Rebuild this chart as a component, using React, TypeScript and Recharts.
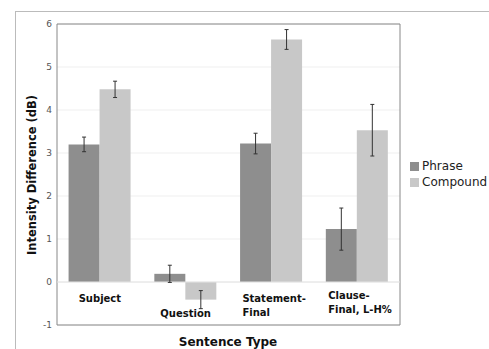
import { Bar, BarChart, CartesianGrid, ErrorBar, ReferenceArea, ReferenceLine, XAxis, YAxis } from 'recharts';

const categories = ['Subject', 'Question', 'Statement-Final', 'Clause-Final, L-H%'];
const categoryLines = [['Subject'], ['Question'], ['Statement-', 'Final'], ['Clause-', 'Final, L-H%']];
const seriesNames = ['Phrase', 'Compound'];
const phrase = [3.2, 0.19, 3.22, 1.23];
const phraseErr = [0.17, 0.2, 0.24, 0.49];
const compound = [4.48, -0.41, 5.64, 3.53];
const compoundErr = [0.19, 0.21, 0.23, 0.6];
const yTicks = [-1, 0, 1, 2, 3, 4, 5, 6];

const FONT = '"DejaVu Sans", Verdana, sans-serif';
const FILLS = ['#8e8e8e', '#c8c8c8'];

const data = categories.map((name, i) => ({
  name,
  Phrase: phrase[i],
  Compound: compound[i],
  phraseErr: [phraseErr[i], phraseErr[i]],
  compoundErr: [compoundErr[i], compoundErr[i]],
}));

type TickProps = { x?: number; y?: number; index?: number };

// Excel puts the labels just under the zero line, pushing Question below its negative bar
function CategoryTick({ x = 0, y = 0, index = 0 }: TickProps) {
  const lines = categoryLines[index] ?? [];
  const shift = index === 1 ? -16 : index === 3 ? -34 : -31;
  const multi = lines.length > 1;
  const tx = multi ? x - 29 : x;
  return (
    <text x={tx} y={y + shift} textAnchor={multi ? 'start' : 'middle'} fontFamily={FONT} fontWeight="bold" fontSize={10} fill="#111">
      {lines.map((line, i) => (
        <tspan key={line} x={tx} dy={i === 0 ? 0 : 14}>
          {line}
        </tspan>
      ))}
    </text>
  );
}

export default function App() {
  return (
    <div style={{ position: 'fixed', left: 0, top: 0, width: 489, height: 349, background: '#fff', overflow: 'hidden' }}>
      <div
        style={{
          position: 'absolute',
          left: 15,
          top: 11,
          width: 480,
          height: 345,
          borderTop: '1px solid #bbb',
          borderLeft: '1px solid #bbb',
        }}
      />
      <div style={{ position: 'absolute', left: 0, top: 0 }}>
        <BarChart
          width={489}
          height={349}
          data={data}
          margin={{ top: 24, right: 89, bottom: 0, left: 0 }}
          barCategoryGap="13.5%"
          barGap={0}
        >
          <CartesianGrid vertical={false} stroke="#efefef" />
          <XAxis dataKey="name" axisLine={false} tickLine={false} height={24} tick={<CategoryTick />} interval={0} />
          <YAxis
            width={57}
            domain={[-1, 6]}
            ticks={yTicks}
            axisLine={false}
            tickLine={false}
            tickSize={3}
            tick={{ fontFamily: FONT, fontSize: 9, fill: '#555' }}
          />
          <ReferenceLine y={0} stroke="#e4e4e4" />
          <Bar dataKey="Phrase" fill={FILLS[0]} isAnimationActive={false}>
            <ErrorBar dataKey="phraseErr" width={2} stroke="#333" strokeWidth={1} />
          </Bar>
          <Bar dataKey="Compound" fill={FILLS[1]} isAnimationActive={false}>
            <ErrorBar dataKey="compoundErr" width={2} stroke="#333" strokeWidth={1} />
          </Bar>
          <ReferenceArea y1={-1} y2={6} fill="none" stroke="#888" strokeWidth={1} ifOverflow="visible" />
        </BarChart>
      </div>
      <div style={{ position: 'absolute', left: 410, top: 158, fontFamily: FONT, fontSize: 12, color: '#222', whiteSpace: 'nowrap' }}>
        {seriesNames.map((name, i) => (
          <div key={name} style={{ display: 'flex', alignItems: 'center', height: 16 }}>
            <span style={{ width: 9, height: 9, background: FILLS[i], marginRight: 3, display: 'inline-block' }} />
            {name}
          </div>
        ))}
      </div>
      <svg width={489} height={349} style={{ position: 'absolute', left: 0, top: 0, pointerEvents: 'none' }}>
        <text
          transform="translate(36 175) rotate(-90)"
          textAnchor="middle"
          fontFamily={FONT}
          fontWeight="bold"
          fontSize={11.5}
          fill="#111"
        >
          Intensity Difference (dB)
        </text>
        <text x={228} y={346} textAnchor="middle" fontFamily={FONT} fontWeight="bold" fontSize={12} fill="#111">
          Sentence Type
        </text>
      </svg>
    </div>
  );
}
